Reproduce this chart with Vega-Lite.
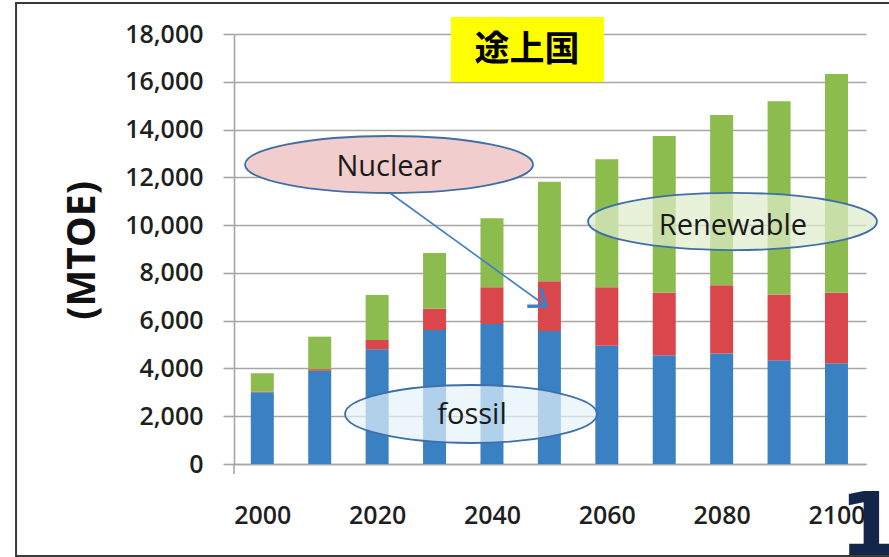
{
  "$schema": "https://vega.github.io/schema/vega-lite/v6.json",
  "width": 632,
  "height": 430,
  "autosize": {"type": "none"},
  "padding": {"left": 234, "top": 34, "right": 23, "bottom": 93},
  "background": "white",
  "config": {"view": {"stroke": null}, "font": "Open Sans"},
  "datasets": {
    "energy": [
      {"year": 2000, "source": "Fossil", "mtoe": 3000},
      {"year": 2000, "source": "Nuclear", "mtoe": 40},
      {"year": 2000, "source": "Renewable", "mtoe": 760},
      {"year": 2010, "source": "Fossil", "mtoe": 3900},
      {"year": 2010, "source": "Nuclear", "mtoe": 70},
      {"year": 2010, "source": "Renewable", "mtoe": 1360},
      {"year": 2020, "source": "Fossil", "mtoe": 4800},
      {"year": 2020, "source": "Nuclear", "mtoe": 390},
      {"year": 2020, "source": "Renewable", "mtoe": 1880},
      {"year": 2030, "source": "Fossil", "mtoe": 5610},
      {"year": 2030, "source": "Nuclear", "mtoe": 890},
      {"year": 2030, "source": "Renewable", "mtoe": 2330},
      {"year": 2040, "source": "Fossil", "mtoe": 5860},
      {"year": 2040, "source": "Nuclear", "mtoe": 1540},
      {"year": 2040, "source": "Renewable", "mtoe": 2890},
      {"year": 2050, "source": "Fossil", "mtoe": 5570},
      {"year": 2050, "source": "Nuclear", "mtoe": 2080},
      {"year": 2050, "source": "Renewable", "mtoe": 4170},
      {"year": 2060, "source": "Fossil", "mtoe": 4950},
      {"year": 2060, "source": "Nuclear", "mtoe": 2450},
      {"year": 2060, "source": "Renewable", "mtoe": 5360},
      {"year": 2070, "source": "Fossil", "mtoe": 4550},
      {"year": 2070, "source": "Nuclear", "mtoe": 2620},
      {"year": 2070, "source": "Renewable", "mtoe": 6560},
      {"year": 2080, "source": "Fossil", "mtoe": 4630},
      {"year": 2080, "source": "Nuclear", "mtoe": 2850},
      {"year": 2080, "source": "Renewable", "mtoe": 7130},
      {"year": 2090, "source": "Fossil", "mtoe": 4340},
      {"year": 2090, "source": "Nuclear", "mtoe": 2760},
      {"year": 2090, "source": "Renewable", "mtoe": 8090},
      {"year": 2100, "source": "Fossil", "mtoe": 4220},
      {"year": 2100, "source": "Nuclear", "mtoe": 2950},
      {"year": 2100, "source": "Renewable", "mtoe": 9160}
    ]
  },
  "layer": [
    {
      "description": "Slide frame",
      "data": {"values": [{"year": 1957.11, "year2": 2111.04, "mtoe": 19298, "mtoe2": -3851}]},
      "mark": {"type": "rect", "fillOpacity": 0, "stroke": "#3a3a3a", "strokeWidth": 2},
      "encoding": {
        "x": {"field": "year", "type": "quantitative"},
        "x2": {"field": "year2"},
        "y": {"field": "mtoe", "type": "quantitative"},
        "y2": {"field": "mtoe2"}
      }
    },
    {
      "description": "Value axis line continuing below zero",
      "data": {"values": [{"year": 1995.07, "mtoe": 0, "mtoe2": -420}]},
      "mark": {"type": "rule", "color": "#a6a6a6", "strokeWidth": 1.6},
      "encoding": {
        "x": {"field": "year", "type": "quantitative"},
        "y": {"field": "mtoe", "type": "quantitative"},
        "y2": {"field": "mtoe2"}
      }
    },
    {
      "data": {"name": "energy"},
      "mark": {"type": "bar", "width": 23},
      "encoding": {
        "x": {
          "field": "year",
          "type": "quantitative",
          "scale": {"domain": [1995.07, 2105.14], "nice": false, "zero": false, "padding": 0},
          "axis": {
            "title": null,
            "values": [2000, 2020, 2040, 2060, 2080, 2100],
            "format": "d",
            "grid": false,
            "ticks": false,
            "domain": true,
            "domainColor": "#a6a6a6",
            "domainWidth": 1.6,
            "labelFont": "Open Sans",
            "labelFontSize": 25,
            "labelFontWeight": 600,
            "labelColor": "#1f1f1f",
            "labelPadding": 39,
            "labelFlush": false,
            "labelOverlap": false,
            "zindex": 0
          }
        },
        "y": {
          "field": "mtoe",
          "type": "quantitative",
          "stack": "zero",
          "scale": {"domain": [0, 18000], "nice": false, "padding": 0},
          "axis": {
            "title": "(MTOE)",
            "values": [0, 2000, 4000, 6000, 8000, 10000, 12000, 14000, 16000, 18000],
            "format": ",d",
            "grid": true,
            "gridColor": "#a6a6a6",
            "gridWidth": 1.6,
            "domain": true,
            "domainColor": "#a6a6a6",
            "domainWidth": 1.6,
            "ticks": true,
            "tickSize": 11,
            "tickColor": "#a6a6a6",
            "tickWidth": 1.6,
            "labelFont": "Open Sans",
            "labelFontSize": 25,
            "labelFontWeight": 600,
            "labelColor": "#1f1f1f",
            "labelPadding": 20,
            "titleFont": "Open Sans",
            "titleFontSize": 39,
            "titleFontWeight": "bold",
            "titleColor": "#111111",
            "titleAngle": -90,
            "titleAlign": "center",
            "titleBaseline": "middle",
            "titleX": -152,
            "titleY": 216
          }
        },
        "color": {
          "field": "source",
          "type": "nominal",
          "scale": {"domain": ["Fossil", "Nuclear", "Renewable"], "range": ["#3a81c3", "#d9464c", "#8cbb4e"]},
          "legend": null
        },
        "order": {"field": "source", "sort": "ascending"}
      }
    },
    {
      "description": "Region tag box",
      "data": {"values": [{"year": 2032.86, "year2": 2059.51, "mtoe": 18712, "mtoe2": 15991}]},
      "mark": {"type": "rect", "fill": "#ffff00"},
      "encoding": {
        "x": {"field": "year", "type": "quantitative"},
        "x2": {"field": "year2"},
        "y": {"field": "mtoe", "type": "quantitative"},
        "y2": {"field": "mtoe2"}
      }
    },
    {
      "data": {"values": [{"label": "途上国", "year": 2046.1, "mtoe": 17330}]},
      "mark": {"type": "text", "font": "Noto Sans CJK JP", "fontSize": 35, "fontWeight": "bold", "color": "#000000", "align": "center", "baseline": "middle"},
      "encoding": {
        "x": {"field": "year", "type": "quantitative"},
        "y": {"field": "mtoe", "type": "quantitative"},
        "text": {"field": "label"}
      }
    },
    {
      "description": "Pointer from the Nuclear callout",
      "data": {"values": [{"year": 2022.24, "year2": 2049.41, "mtoe": 11344, "mtoe2": 6614}]},
      "mark": {"type": "rule", "color": "#3f7fc6", "strokeWidth": 1.6},
      "encoding": {
        "x": {"field": "year", "type": "quantitative"},
        "x2": {"field": "year2"},
        "y": {"field": "mtoe", "type": "quantitative"},
        "y2": {"field": "mtoe2"}
      }
    },
    {
      "data": {"values": [{"year": 2049.41, "mtoe": 6614}]},
      "mark": {"type": "point", "shape": "M-1,-0.75L0,0L-1,0.75", "size": 900, "angle": 36, "filled": false, "stroke": "#3f7fc6", "strokeWidth": 3.5, "strokeJoin": "miter", "opacity": 1},
      "encoding": {
        "x": {"field": "year", "type": "quantitative"},
        "y": {"field": "mtoe", "type": "quantitative"}
      }
    },
    {
      "data": {"values": [{"year": 2022.07, "mtoe": 12537}]},
      "mark": {"type": "point", "shape": "M-1,0C-1,-0.1094,-0.5523,-0.198,0,-0.198C0.5523,-0.198,1,-0.1094,1,0C1,0.1094,0.5523,0.198,0,0.198C-0.5523,0.198,-1,0.1094,-1,0Z", "size": 82944, "filled": true, "fill": "#f2cdcd", "fillOpacity": 1, "stroke": "#3f6fa8", "strokeWidth": 1.8, "opacity": 1},
      "encoding": {
        "x": {"field": "year", "type": "quantitative"},
        "y": {"field": "mtoe", "type": "quantitative"}
      }
    },
    {
      "data": {"values": [{"label": "Nuclear", "year": 2022.07, "mtoe": 12432}]},
      "mark": {"type": "text", "font": "Open Sans", "fontSize": 29, "color": "#1a1a1a", "align": "center", "baseline": "middle"},
      "encoding": {
        "x": {"field": "year", "type": "quantitative"},
        "y": {"field": "mtoe", "type": "quantitative"},
        "text": {"field": "label"}
      }
    },
    {
      "data": {"values": [{"year": 2081.89, "mtoe": 10151}]},
      "mark": {"type": "point", "shape": "M-1,0C-1,-0.1094,-0.5523,-0.198,0,-0.198C0.5523,-0.198,1,-0.1094,1,0C1,0.1094,0.5523,0.198,0,0.198C-0.5523,0.198,-1,0.1094,-1,0Z", "size": 83521, "filled": true, "fill": "#dfeccb", "fillOpacity": 0.72, "stroke": "#3f6fa8", "strokeWidth": 1.8, "opacity": 1},
      "encoding": {
        "x": {"field": "year", "type": "quantitative"},
        "y": {"field": "mtoe", "type": "quantitative"}
      }
    },
    {
      "data": {"values": [{"label": "Renewable", "year": 2081.97, "mtoe": 9963}]},
      "mark": {"type": "text", "font": "Open Sans", "fontSize": 29, "color": "#1a1a1a", "align": "center", "baseline": "middle"},
      "encoding": {
        "x": {"field": "year", "type": "quantitative"},
        "y": {"field": "mtoe", "type": "quantitative"},
        "text": {"field": "label"}
      }
    },
    {
      "data": {"values": [{"year": 2036.35, "mtoe": 2093}]},
      "mark": {"type": "point", "shape": "M-1,0C-1,-0.127,-0.5523,-0.23,0,-0.23C0.5523,-0.23,1,-0.127,1,0C1,0.127,0.5523,0.23,0,0.23C-0.5523,0.23,-1,0.127,-1,0Z", "size": 63504, "filled": true, "fill": "#e4f2fa", "fillOpacity": 0.7, "stroke": "#3f6fa8", "strokeWidth": 1.8, "opacity": 1},
      "encoding": {
        "x": {"field": "year", "type": "quantitative"},
        "y": {"field": "mtoe", "type": "quantitative"}
      }
    },
    {
      "data": {"values": [{"label": "fossil", "year": 2036.52, "mtoe": 2051}]},
      "mark": {"type": "text", "font": "Open Sans", "fontSize": 29, "color": "#1a1a1a", "align": "center", "baseline": "middle"},
      "encoding": {
        "x": {"field": "year", "type": "quantitative"},
        "y": {"field": "mtoe", "type": "quantitative"},
        "text": {"field": "label"}
      }
    },
    {
      "description": "Page number",
      "data": {"values": [{"label": "1", "year": 2100.43, "mtoe": -3809}]},
      "mark": {"type": "text", "font": "DejaVu Sans", "fontSize": 87, "fontWeight": "bold", "color": "#13264a", "align": "left", "baseline": "alphabetic"},
      "encoding": {
        "x": {"field": "year", "type": "quantitative"},
        "y": {"field": "mtoe", "type": "quantitative"},
        "text": {"field": "label"}
      }
    }
  ]
}
